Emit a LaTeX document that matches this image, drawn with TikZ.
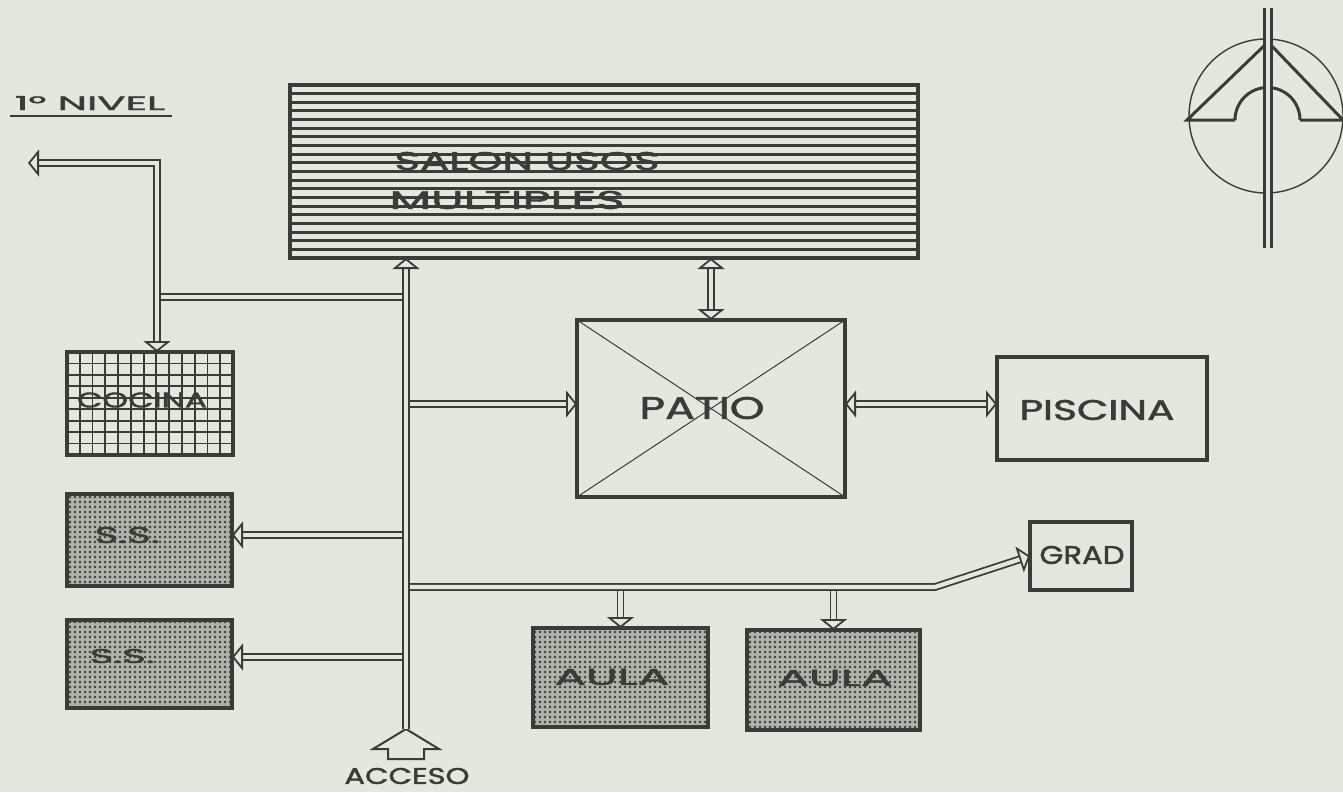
\documentclass[tikz,border=0pt]{standalone}
\usepackage{fontspec}
\setmainfont{Poppins}
\newfontfamily\hand[FakeBold=1.6]{Poppins}
\usetikzlibrary{arrows.meta,patterns.meta,calc}
\definecolor{bg}{HTML}{E3E8DF}
\definecolor{ink}{HTML}{393C37}
\definecolor{dotbg}{HTML}{AEB2A8}
\newcommand{\lbl}[3]{\resizebox{#1pt}{#2pt}{\hand #3}}
\begin{document}
\begin{tikzpicture}[x=1pt,y=-1pt,
  room/.style={draw=ink, line width=3.4pt, inner sep=0pt, outer sep=0pt},
  txt/.style={text=ink, inner sep=0pt},
  conn/.style={draw=ink, line width=1.8pt, double=bg, double distance=4.2pt, line join=miter},
  headtip/.tip={Triangle[open, length=11pt, width=27pt, line width=1.8pt]},
  tip/.style={-headtip},
  tips/.style={headtip-headtip},
  striped/.style={path picture={\foreach \i in {1,...,19}{\draw[ink,line width=3pt] ([yshift=-\i*8.65pt]path picture bounding box.north west) -- ([yshift=-\i*8.65pt]path picture bounding box.north east);}}},
  gridded/.style={path picture={
     \foreach \i in {1,...,12}{\draw[ink,line width=1.8pt] ([xshift=\i*12.77pt]path picture bounding box.north west) -- ([xshift=\i*12.77pt]path picture bounding box.south west);}
     \foreach \j in {1,...,8}{\draw[ink,line width=1.8pt] ([yshift=-\j*11.44pt]path picture bounding box.north west) -- ([yshift=-\j*11.44pt]path picture bounding box.north east);}}},
  dotted/.style={preaction={fill=dotbg}, pattern={Dots[distance=5pt, radius=1.4pt]}, pattern color=ink},
  crossed/.style={path picture={
     \draw[ink,line width=1pt] (path picture bounding box.north west) -- (path picture bounding box.south east);
     \draw[ink,line width=1pt] (path picture bounding box.north east) -- (path picture bounding box.south west);}}
]
\fill[bg] (0,0) rectangle (1343,792);
\useasboundingbox (0,0) rectangle (1343,792);

% rooms
\node[room, striped, minimum width=628pt, minimum height=173pt] (salon) at (604,171.5) {};
\node[room, crossed, minimum width=268pt, minimum height=177pt] (patio) at (711,408.5) {};
\node[room, minimum width=210pt, minimum height=103pt] (piscina) at (1102,408.5) {};
\node[room, minimum width=102pt, minimum height=68pt] (grad) at (1081,556) {};
\node[room, gridded, minimum width=166pt, minimum height=103pt] (cocina) at (150,403.5) {};
\node[room, dotted, minimum width=165pt, minimum height=92pt] (ss1) at (149.5,540) {};
\node[room, dotted, minimum width=165pt, minimum height=88pt] (ss2) at (149.5,664) {};
\node[room, dotted, minimum width=175pt, minimum height=99pt] (aula1) at (620.5,677.5) {};
\node[room, dotted, minimum width=173pt, minimum height=100pt] (aula2) at (833.5,680) {};

% labels
\node[txt] (tSalonA) at (527,161) {\lbl{265}{18}{SALON USOS}};
\node[txt] (tSalonB) at (507,200) {\lbl{235}{18}{MULTIPLES}};
\node[txt] (tPatio) at (702,408) {\lbl{125}{22}{PATIO}};
\node[txt] (tPiscina) at (1097,410) {\lbl{155}{20}{PISCINA}};
\node[txt] (tGrad) at (1082,555) {\lbl{85}{18}{GRAD}};
\node[txt] (tCocina) at (142,400) {\lbl{130}{15}{COCINA}};
\node[txt] (tSS1) at (127,535) {\lbl{65}{16}{S.S.}};
\node[txt] (tSS2) at (122,656) {\lbl{65}{14}{S.S.}};
\node[txt] (tAula1) at (612,677) {\lbl{115}{16}{AULA}};
\node[txt] (tAula2) at (835,678) {\lbl{115}{16}{AULA}};
\node[txt] (tAcceso) at (407,776) {\lbl{125}{16}{ACCESO}};
\node[txt] (tNivel) at (90,103) {\lbl{150}{14}{1º NIVEL}};
\draw[ink, line width=2pt] ([xshift=-5pt,yshift=-6pt]tNivel.south west) -- ([xshift=7pt,yshift=-6pt]tNivel.south east);

% access arrow
\draw[ink, line width=2pt, fill=bg, line join=miter] (406,729) -- (439,749) -- (424,749) -- (424,759) -- (388,759) -- (388,749) -- (373,749) -- cycle;
\coordinate (acc) at (406,729);

% junction points
\coordinate (j1) at (406,297);
\coordinate (kc) at (157,163);
\coordinate (exitL) at (28,163);
\coordinate (jP) at (406,404);
\coordinate (jS1) at (406,535);
\coordinate (jS2) at (406,657);
\coordinate (jG) at (406,587);
\coordinate (bend) at (935,587);

% connectors
\draw[conn] (j1) -- (j1 -| kc);
\draw[conn, tips] (exitL) -- (kc) -- (kc |- cocina.north);
\draw[conn, tip] (jP) -- (jP -| patio.west);
\draw[conn, tip] (jS1) -- (jS1 -| ss1.east);
\draw[conn, tip] (jS2) -- (jS2 -| ss2.east);
\draw[conn, tip] (aula1.north |- jG) -- (aula1.north);
\draw[conn, tip] (aula2.north |- jG) -- (aula2.north);
\draw[conn, tip] (jG) -- (bend) -- (grad.west);
\draw[conn, tip] (acc) -- (acc |- salon.south);
\draw[conn, tips] (patio.north) -- (patio.north |- salon.south);
\draw[conn, tips] (patio.east |- jP) -- (jP -| piscina.west);

% compass
\draw[ink, line width=1.4pt] (1266,116) circle[radius=77];
\draw[ink, line width=3pt, line join=miter] (1235,120) -- (1187,120) -- (1268,42) -- (1343,120) -- (1300,120);
\draw[ink, line width=3pt] (1300,120) arc[start angle=0, end angle=-180, radius=32.5];
\draw[ink, line width=2.4pt, double=bg, double distance=4.5pt] (1268,8) -- (1268,248);
\end{tikzpicture}
\end{document}
